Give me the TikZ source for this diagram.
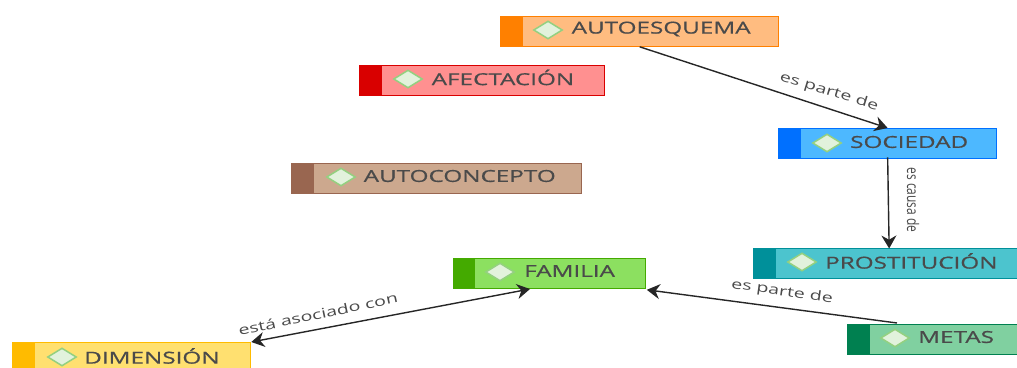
\documentclass[tikz,border=0pt]{standalone}
\usepackage{fontspec}
\setmainfont{Open Sans}
\newfontfamily\conceptfont[FakeStretch=1.47,FakeBold=0.7]{Open Sans}
\newfontfamily\linkfont[FakeStretch=1.45]{Open Sans}
\newfontfamily\causefont[FakeStretch=0.75]{Open Sans}
\usetikzlibrary{arrows.meta,shapes.geometric}
\definecolor{textgray}{HTML}{4A4A4A}
\definecolor{markline}{HTML}{94D080}\definecolor{markfill}{HTML}{E2F2DC}
\definecolor{orangeband}{HTML}{FF8000}\definecolor{orangefill}{HTML}{FFBC80}
\definecolor{redband}{HTML}{D90000}\definecolor{redfill}{HTML}{FF9090}
\definecolor{blueband}{HTML}{0070FF}\definecolor{bluefill}{HTML}{4DB8FF}
\definecolor{brownband}{HTML}{996650}\definecolor{brownfill}{HTML}{CCA88E}
\definecolor{tealband}{HTML}{00909A}\definecolor{tealfill}{HTML}{4CC4CE}
\definecolor{limeband}{HTML}{44AA00}\definecolor{limefill}{HTML}{8CE060}
\definecolor{greenband}{HTML}{008050}\definecolor{greenfill}{HTML}{80D0A0}
\definecolor{yellowband}{HTML}{FFBB00}\definecolor{yellowfill}{HTML}{FFE070}
\tikzset{
  conceptbox/.style 2 args={draw=#1,fill=#2,line width=1.3pt,anchor=north west,minimum height=30pt,inner sep=0pt,
    path picture={\fill[#1] (path picture bounding box.south west) rectangle ([xshift=22pt]path picture bounding box.north west);}},
  conceptmark/.style={diamond,draw=markline,fill=markfill,line width=1.5pt,minimum width=29pt,minimum height=18pt,inner sep=0pt},
  concepttext/.style={anchor=west,inner sep=0pt,text=textgray,font=\conceptfont\fontsize{16.5}{18}\selectfont},
  linktext/.style={text=textgray,font=\linkfont\fontsize{13.5}{15}\selectfont,inner sep=0pt},
  linkarrow/.style={line width=1.4pt,black!85,-{Stealth[length=13pt,width=15pt]}}
}
\begin{document}
\begin{tikzpicture}[x=1pt,y=-1pt]
\useasboundingbox (0,0) rectangle (1017,367);
\clip (0,0) rectangle (1017,367);
% concepts
\node[conceptbox={orangeband}{orangefill},minimum width=278pt] (autoesquema) at (500,15.5){};
\node[conceptmark] (autoesquemamark) at (548,30){};
\node[concepttext] (autoesquematext) at (571.5,29){AUTOESQUEMA};
\node[conceptbox={redband}{redfill},minimum width=245pt] (afectacion) at (359,64.5){};
\node[conceptmark] (afectacionmark) at (408,79){};
\node[concepttext] (afectaciontext) at (431.5,77.5){AFECTACIÓN};
\node[conceptbox={blueband}{bluefill},minimum width=218pt] (sociedad) at (778,128){};
\node[conceptmark] (sociedadmark) at (827,143){};
\node[concepttext] (sociedadtext) at (850,142){SOCIEDAD};
\node[conceptbox={brownband}{brownfill},minimum width=290pt] (autoconcepto) at (291,163){};
\node[conceptmark] (autoconceptomark) at (341,177){};
\node[concepttext] (autoconceptotext) at (363.5,176){AUTOCONCEPTO};
\node[conceptbox={tealband}{tealfill},minimum width=271pt] (prostitucion) at (753,247.5){};
\node[conceptmark] (prostitucionmark) at (802,262){};
\node[concepttext] (prostituciontext) at (825,261){PROSTITUCIÓN};
\node[conceptbox={limeband}{limefill},minimum width=192pt] (familia) at (452.5,257.5){};
\node[conceptmark] (familiamark) at (500,272){};
\node[concepttext] (familiatext) at (524,271){FAMILIA};
\node[conceptbox={greenband}{greenfill},minimum width=220pt] (metas) at (847,323.5){};
\node[conceptmark] (metasmark) at (895,338){};
\node[concepttext] (metastext) at (918,337){METAS};
\node[conceptbox={yellowband}{yellowfill},minimum width=238pt] (dimension) at (12,342){};
\node[conceptmark] (dimensionmark) at (62,357){};
\node[concepttext] (dimensiontext) at (84,356){DIMENSIÓN};
% links
\draw[linkarrow] (autoesquema.south) -- (sociedad.north);
\draw[linkarrow] ([yshift=2pt]sociedad.south) -- ([yshift=-1pt]prostitucion.north);
\coordinate (metasout) at (897,323);
\draw[linkarrow] (metasout) -- ([shift={(1pt,-1pt)}]familia.south east);
\coordinate (familiain) at (530,289);
\draw[linkarrow,{Stealth[length=13pt,width=15pt]}-{Stealth[length=13pt,width=15pt]}] (dimension.north east) -- (familiain);
\node[linktext,rotate=-17] (parteuno) at (829,92){es parte de};
\node[linktext,rotate=-90,font=\causefont\fontsize{16}{18}\selectfont] (causa) at (913,200){es causa de};
\node[linktext,rotate=-8] (partedos) at (782,292){es parte de};
\node[linktext,rotate=12] (asociado) at (318,314){está asociado con};
\end{tikzpicture}
\end{document}
